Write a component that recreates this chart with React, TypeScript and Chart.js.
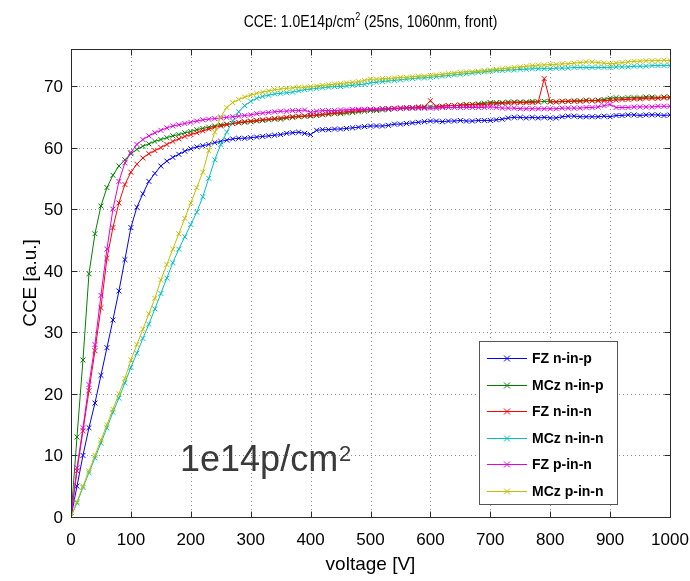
import React, { useEffect, useRef } from 'react';
import { Chart, registerables } from 'chart.js';

Chart.register(...registerables);

const TITLE_MAIN = 'CCE: 1.0E14p/cm';
const TITLE_SUP = '2';
const TITLE_REST = ' (25ns, 1060nm, front)';
const X_LABEL = 'voltage [V]';
const Y_LABEL = 'CCE [a.u.]';
const NOTE_MAIN = '1e14p/cm';
const NOTE_SUP = '2';

const xTicks = [0, 100, 200, 300, 400, 500, 600, 700, 800, 900, 1000];
const yTicks = [0, 10, 20, 30, 40, 50, 60, 70];

const voltages = [
  0, 10, 20, 30, 40, 50, 60, 70, 80, 90, 100,
  110, 120, 130, 140, 150, 160, 170, 180, 190, 200,
  210, 220, 230, 240, 250, 260, 270, 280, 290, 300,
  310, 320, 330, 340, 350, 360, 370, 380, 390, 400,
  410, 420, 430, 440, 450, 460, 470, 480, 490, 500,
  510, 520, 530, 540, 550, 560, 570, 580, 590, 600,
  610, 620, 630, 640, 650, 660, 670, 680, 690, 700,
  710, 720, 730, 740, 750, 760, 770, 780, 790, 800,
  810, 820, 830, 840, 850, 860, 870, 880, 890, 900,
  910, 920, 930, 940, 950, 960, 970, 980, 990, 1000,
];

const fzNinP = [
  0, 5, 10, 14.5, 18.5, 23, 27.5, 32, 36.7, 41.8, 47,
  50.3, 52.5, 54.5, 55.8, 57, 57.8, 58.4, 58.9, 59.4, 59.8,
  60.1, 60.3, 60.5, 60.8, 61, 61.2, 61.4, 61.5, 61.5, 61.6,
  61.7, 61.8, 61.9, 62, 62.1, 62.3, 62.4, 62.5, 62.3, 62.1,
  62.8, 62.9, 62.9, 63, 63, 63.1, 63.2, 63.3, 63.4, 63.5,
  63.5, 63.5, 63.6, 63.8, 63.8, 63.9, 64, 64.1, 64.2, 64.3,
  64.3, 64.2, 64.3, 64.3, 64.4, 64.3, 64.3, 64.4, 64.4, 64.4,
  64.5, 64.6, 64.8, 64.9, 64.9, 64.8, 64.9, 64.8, 64.9, 64.8,
  64.8, 65, 65.1, 65.1, 65, 65, 65, 65, 65.1, 65,
  65.2, 65.2, 65.3, 65.3, 65.2, 65.3, 65.3, 65.3, 65.2, 65.3,
];

const mczNinP = [
  0, 13, 25.5, 39.5, 46, 50.5, 53.5, 55.5, 57, 58, 59,
  59.7, 60.2, 60.6, 61, 61.3, 61.6, 61.9, 62.1, 62.4, 62.6,
  62.9, 63.1, 63.3, 63.5, 63.7, 63.8, 63.9, 64, 64.1, 64.2,
  64.3, 64.4, 64.5, 64.6, 64.6, 64.8, 64.9, 65, 65.1, 65.1,
  65.2, 65.3, 65.4, 65.5, 65.5, 65.6, 65.7, 65.8, 65.9, 66,
  66, 66.1, 66.2, 66.3, 66.3, 66.4, 66.4, 66.5, 66.5, 66.6,
  66.6, 66.7, 66.8, 66.8, 66.9, 67, 67, 67.1, 67.2, 67.3,
  67.3, 67.3, 67.4, 67.4, 67.4, 67.4, 67.5, 67.4, 67.5, 67.5,
  67.4, 67.5, 67.5, 67.6, 67.6, 67.7, 67.6, 67.7, 67.8, 68,
  68.1, 68, 68.1, 68.1, 68.1, 68.2, 68.2, 68.1, 68.2, 68.2,
];

const fzNinN = [
  0, 7.5, 14, 20.5, 27, 34, 42, 47, 51, 54, 56,
  57.3, 58.3, 59, 59.5, 60, 60.5, 61, 61.4, 61.8, 62.1,
  62.4, 62.7, 63, 63.3, 63.5, 63.7, 63.9, 64.1, 64.2, 64.3,
  64.4, 64.5, 64.6, 64.7, 64.8, 64.9, 65, 65.1, 65.1, 65.2,
  65.3, 65.4, 65.5, 65.6, 65.7, 65.8, 65.9, 66, 66.1, 66.2,
  66.2, 66.3, 66.3, 66.4, 66.4, 66.5, 66.5, 66.6, 66.6, 67.6,
  66.7, 66.7, 66.8, 66.8, 66.9, 66.9, 67, 67, 67, 67.1,
  67.1, 67.2, 67.2, 67.3, 67.3, 67.3, 67.3, 67.4, 71.2, 67.4,
  67.4, 67.5, 67.5, 67.5, 67.5, 67.6, 67.6, 67.6, 67.6, 67.7,
  67.7, 67.8, 67.8, 67.9, 67.9, 68, 68, 68, 68.1, 68.1,
];

const mczNinN = [
  0, 2.3, 4.8, 7.2, 9.6, 12, 14.5, 17, 19.3, 21.8, 24.3,
  26.6, 29, 31.3, 33.8, 36.3, 38.8, 41.3, 43.5, 45.5, 47.5,
  49.5, 52, 55, 58, 60.5, 62.5, 64.3, 65.8, 66.8, 67.5,
  68, 68.3, 68.5, 68.7, 68.8, 68.9, 69, 69.2, 69.4, 69.5,
  69.6, 69.7, 69.8, 69.9, 69.9, 70, 70.1, 70.2, 70.3, 70.5,
  70.6, 70.7, 70.8, 70.9, 71, 71.1, 71.2, 71.3, 71.3, 71.4,
  71.5, 71.6, 71.7, 71.8, 71.9, 72, 72.1, 72.2, 72.3, 72.4,
  72.5, 72.5, 72.6, 72.6, 72.7, 72.7, 72.8, 72.8, 72.8, 72.8,
  72.9, 72.9, 72.9, 73, 73, 73, 73, 73, 73, 73,
  73.1, 73.1, 73.1, 73.2, 73.2, 73.2, 73.3, 73.3, 73.3, 73.3,
];

const fzPinN = [
  0, 8, 14.5, 21.5, 28, 36, 43.5, 50, 54.5, 57.5, 59.2,
  60.5, 61.3, 61.9, 62.4, 62.8, 63.2, 63.5, 63.7, 63.9, 64.1,
  64.3, 64.5, 64.6, 64.7, 64.8, 64.9, 65, 65.1, 65.2, 65.3,
  65.5, 65.6, 65.7, 65.8, 65.9, 65.9, 66, 66, 66.1, 65.7,
  65.9, 66, 66, 66, 66.1, 66.1, 66.2, 66.2, 66.2, 66.2,
  66.2, 66.3, 66.3, 66.3, 66.4, 66.4, 66.4, 66.4, 66.4, 66.4,
  66.4, 66.5, 66.5, 66.5, 66.5, 66.5, 66.5, 66.5, 66.5, 66.6,
  66.5, 66.4, 66.4, 66.4, 66.3, 66.3, 66.3, 66.3, 66.3, 66.3,
  66.3, 66.4, 66.4, 66.4, 66.4, 66.5, 66.5, 66.6, 66.8, 67,
  66.5, 66.5, 66.5, 66.6, 66.6, 66.6, 66.6, 66.7, 66.7, 66.7,
];

const mczPinN = [
  0, 2.5, 5, 7.5, 10, 12.5, 15, 17.5, 20, 22.5, 25.5,
  28, 30.5, 33, 35.5, 38.5, 41, 43.5, 46, 48.5, 51,
  53.5, 56, 59.5, 62.5, 65, 66.5, 67.3, 67.8, 68.2, 68.5,
  68.8, 69, 69.2, 69.4, 69.5, 69.6, 69.7, 69.8, 69.8, 69.9,
  70, 70.1, 70.2, 70.3, 70.4, 70.5, 70.6, 70.7, 70.9, 71.1,
  71.1, 71.2, 71.2, 71.3, 71.4, 71.4, 71.5, 71.6, 71.6, 71.7,
  71.8, 71.9, 72, 72.1, 72.2, 72.3, 72.3, 72.4, 72.5, 72.6,
  72.7, 72.8, 72.9, 73, 73.1, 73.2, 73.3, 73.4, 73.4, 73.5,
  73.5, 73.6, 73.6, 73.7, 73.8, 73.9, 73.9, 73.8, 73.7, 73.6,
  73.7, 73.8, 73.9, 74, 74, 74.1, 74.1, 74.1, 74.2, 74.1,
];

const seriesNames = ['FZ n-in-p', 'MCz n-in-p', 'FZ n-in-n', 'MCz n-in-n', 'FZ p-in-n', 'MCz p-in-n'];
const seriesValues = [fzNinP, mczNinP, fzNinN, mczNinN, fzPinN, mczPinN];
const seriesColors = ['#0000ff', '#008000', '#ff0000', '#00bfbf', '#e000e0', '#bfbf00'];

const X_MIN = 0;
const X_MAX = 1000;
const Y_MIN = 0;
const Y_MAX = 76;

const FONT = '"Liberation Sans", Arial, Helvetica, sans-serif';

function drawCondensed(ctx: CanvasRenderingContext2D, text: string, x: number, y: number, sx: number) {
  ctx.save();
  ctx.translate(x, y);
  ctx.scale(sx, 1);
  ctx.fillText(text, 0, 0);
  ctx.restore();
}

const matlabPlugin = {
  id: 'matlabLook',
  beforeDatasetsDraw(chart: any) {
    const { ctx, chartArea: a, scales } = chart;
    const xs = scales.x;
    const ys = scales.y;
    ctx.save();
    ctx.strokeStyle = '#8c8c8c';
    ctx.lineWidth = 1;
    ctx.setLineDash([1, 3]);
    ctx.beginPath();
    xTicks.forEach((v) => {
      if (v === X_MIN || v === X_MAX) return;
      const px = Math.round(xs.getPixelForValue(v)) + 0.5;
      ctx.moveTo(px, a.top);
      ctx.lineTo(px, a.bottom);
    });
    yTicks.forEach((v) => {
      if (v === Y_MIN) return;
      const py = Math.round(ys.getPixelForValue(v)) + 0.5;
      ctx.moveTo(a.left, py);
      ctx.lineTo(a.right, py);
    });
    ctx.stroke();
    ctx.restore();
  },
  afterDatasetsDraw(chart: any) {
    const { ctx, chartArea: a, scales } = chart;
    const xs = scales.x;
    const ys = scales.y;
    const L = Math.round(a.left) + 0.5;
    const R = Math.round(a.right) + 0.5;
    const T = Math.round(a.top) + 0.5;
    const B = Math.round(a.bottom) + 0.5;

    ctx.save();
    // box
    ctx.strokeStyle = '#2a2a2a';
    ctx.lineWidth = 1;
    ctx.setLineDash([]);
    ctx.strokeRect(L, T, R - L, B - T);
    // inward ticks
    ctx.beginPath();
    const tl = 6;
    xTicks.forEach((v) => {
      const px = Math.round(xs.getPixelForValue(v)) + 0.5;
      ctx.moveTo(px, B);
      ctx.lineTo(px, B - tl);
      ctx.moveTo(px, T);
      ctx.lineTo(px, T + tl);
    });
    yTicks.forEach((v) => {
      const py = Math.round(ys.getPixelForValue(v)) + 0.5;
      ctx.moveTo(L, py);
      ctx.lineTo(L + tl, py);
      ctx.moveTo(R, py);
      ctx.lineTo(R - tl, py);
    });
    ctx.stroke();

    // tick labels
    ctx.fillStyle = '#000';
    ctx.font = `17px ${FONT}`;
    ctx.textAlign = 'center';
    ctx.textBaseline = 'alphabetic';
    xTicks.forEach((v) => {
      const px = xs.getPixelForValue(v);
      ctx.fillText(String(v), px, a.bottom + 28);
    });
    ctx.textAlign = 'right';
    yTicks.forEach((v) => {
      const py = ys.getPixelForValue(v);
      ctx.fillText(String(v), a.left - 8, py + 6);
    });

    // axis titles
    ctx.font = `19px ${FONT}`;
    ctx.textAlign = 'center';
    ctx.fillText(X_LABEL, (a.left + a.right) / 2, 570);
    ctx.save();
    ctx.translate(36, (a.top + a.bottom) / 2);
    ctx.rotate(-Math.PI / 2);
    ctx.fillText(Y_LABEL, 0, 0);
    ctx.restore();

    // title with superscript
    const cx = (a.left + a.right) / 2;
    const tsx = 0.82;
    ctx.font = `17px ${FONT}`;
    const w1 = ctx.measureText(TITLE_MAIN).width * tsx;
    const w3 = ctx.measureText(TITLE_REST).width * tsx;
    ctx.font = `11px ${FONT}`;
    const w2 = ctx.measureText(TITLE_SUP).width * tsx;
    const total = w1 + w2 + w3;
    const x0 = cx - total / 2;
    ctx.textAlign = 'left';
    ctx.font = `17px ${FONT}`;
    drawCondensed(ctx, TITLE_MAIN, x0, 27, tsx);
    ctx.font = `11px ${FONT}`;
    drawCondensed(ctx, TITLE_SUP, x0 + w1, 20, tsx);
    ctx.font = `17px ${FONT}`;
    drawCondensed(ctx, TITLE_REST, x0 + w1 + w2, 27, tsx);

    // annotation in data coordinates
    const nx = xs.getPixelForValue(182);
    const ny = ys.getPixelForValue(7.4);
    ctx.fillStyle = '#3a3a3a';
    ctx.font = `36px ${FONT}`;
    ctx.fillText(NOTE_MAIN, nx, ny);
    const nw = ctx.measureText(NOTE_MAIN).width;
    ctx.font = `22px ${FONT}`;
    ctx.fillText(NOTE_SUP, nx + nw + 1, ny - 10);

    // legend
    const lx = 479.5;
    const ly = 341.5;
    const lw = 138;
    const lh = 163;
    ctx.fillStyle = '#fff';
    ctx.fillRect(lx, ly, lw, lh);
    ctx.strokeStyle = '#555';
    ctx.strokeRect(lx, ly, lw, lh);
    const ds = chart.data.datasets;
    ds.forEach((d: any, i: number) => {
      const ry = Math.round(358 + i * 26.6) + 0.5;
      ctx.strokeStyle = d.borderColor;
      ctx.lineWidth = 1;
      ctx.beginPath();
      ctx.moveTo(487, ry);
      ctx.lineTo(527, ry);
      const mx = 507;
      const r = 3;
      ctx.moveTo(mx - r, ry - r);
      ctx.lineTo(mx + r, ry + r);
      ctx.moveTo(mx - r, ry + r);
      ctx.lineTo(mx + r, ry - r);
      ctx.stroke();
      ctx.fillStyle = '#000';
      ctx.font = `bold 14px ${FONT}`;
      ctx.textAlign = 'left';
      ctx.textBaseline = 'middle';
      ctx.fillText(d.label, 532, ry + 1);
    });
    ctx.restore();
  },
};

export default function App() {
  const ref = useRef<HTMLCanvasElement | null>(null);

  useEffect(() => {
    document.body.style.margin = '0';
    const canvas = ref.current;
    if (!canvas) return;
    const datasets = seriesNames.map((name, i) => ({
      label: name,
      data: voltages.map((v, k) => ({ x: v, y: seriesValues[i][k] })),
      borderColor: seriesColors[i],
      backgroundColor: seriesColors[i],
      borderWidth: 1,
      pointStyle: 'crossRot',
      pointRadius: 3.5,
      pointBorderWidth: 1,
      pointBorderColor: seriesColors[i],
      fill: false,
      tension: 0,
      order: seriesNames.length - i,
    }));
    const chart = new Chart(canvas, {
      type: 'line',
      data: { datasets },
      options: {
        responsive: false,
        animation: false,
        devicePixelRatio: 1,
        layout: { padding: { left: 71, right: 20, top: 49, bottom: 64 } },
        plugins: {
          legend: { display: false },
          title: { display: false },
          tooltip: { enabled: false },
        },
        scales: {
          x: { type: 'linear', min: X_MIN, max: X_MAX, display: false },
          y: { type: 'linear', min: Y_MIN, max: Y_MAX, display: false },
        },
      },
      plugins: [matlabPlugin],
    } as any);
    return () => chart.destroy();
  }, []);

  return (
    <div style={{ width: 690, height: 581, background: '#fff' }}>
      <canvas ref={ref} width={690} height={581} style={{ display: 'block' }} />
    </div>
  );
}
